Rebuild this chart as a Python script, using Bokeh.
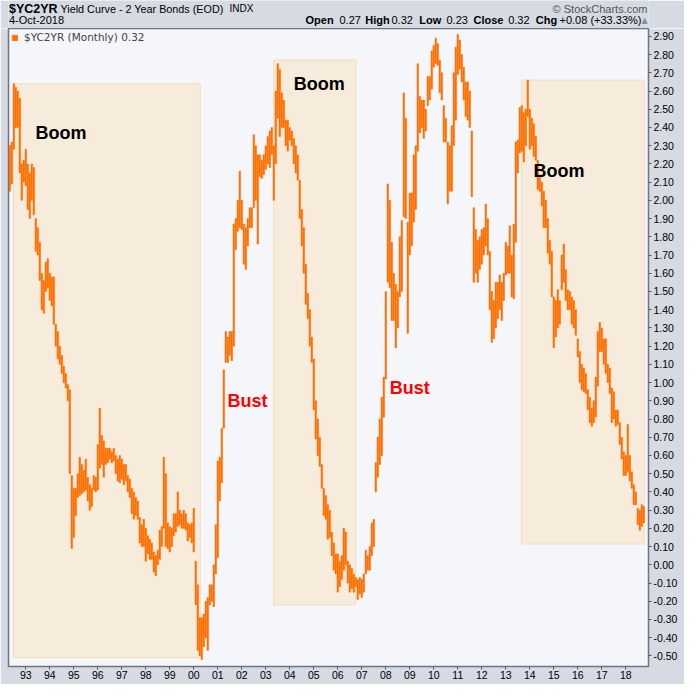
import pandas as pd
from bokeh.plotting import figure
from bokeh.layouts import column
from bokeh.models import (Range1d, FixedTicker, NumeralTickFormatter, Label,
                          Legend, LegendItem, ColumnDataSource)
from bokeh.core.properties import value
from bokeh.embed import file_html
from bokeh.resources import INLINE

# ---------------- data (monthly high / low of $YC2YR, May 1992 .. Oct 2018) -------------
start_month = "1992-05"
highs = [
    2.30, 2.32, 2.64, 2.62, 2.60, 2.56, 2.20, 2.22,                          # 1992 May-Dec
    2.28, 2.20, 2.15, 2.20, 2.18, 1.90, 1.85, 1.77, 1.60, 1.56, 1.66, 1.68,  # 1993
    1.60, 1.58, 1.58, 1.32, 1.28, 1.20, 1.15, 1.09, 1.05, 0.99, 0.96, 0.49,  # 1994
    0.42, 0.42, 0.50, 0.59, 0.55, 0.52, 0.58, 0.48, 0.44, 0.42, 0.49, 0.48,  # 1995
    0.66, 0.86, 0.71, 0.68, 0.64, 0.64, 0.64, 0.62, 0.64, 0.60, 0.58, 0.60,  # 1996
    0.58, 0.55, 0.55, 0.49, 0.47, 0.42, 0.40, 0.37, 0.35, 0.26, 0.22, 0.25,  # 1997
    0.20, 0.16, 0.14, 0.12, 0.07, 0.05, 0.08, 0.19, 0.21, 0.59, 0.50, 0.23,  # 1998
    0.21, 0.20, 0.28, 0.28, 0.40, 0.30, 0.28, 0.30, 0.28, 0.23, 0.22, 0.23,  # 1999
    0.31, 0.02, -0.11, -0.29, -0.29, -0.27, -0.20, -0.18, -0.11, -0.11, 0.00, 0.22,  # 2000
    0.57, 0.59, 0.75, 1.07, 1.28, 1.25, 1.28, 1.28, 1.87, 1.90, 2.00, 2.16,  # 2001
    2.00, 1.87, 1.85, 1.90, 1.96, 1.96, 2.36, 2.30, 2.25, 2.25, 2.22, 2.25,  # 2002
    2.30, 2.35, 2.38, 2.40, 2.30, 2.60, 2.75, 2.72, 2.59, 2.55, 2.44, 2.44,  # 2003
    2.40, 2.38, 2.34, 2.30, 2.25, 2.11, 1.95, 1.85, 1.65, 1.49, 1.40, 1.25,  # 2004
    1.13, 0.90, 0.80, 0.70, 0.55, 0.42, 0.38, 0.33, 0.30, 0.18, 0.12, 0.06,  # 2005
    0.06, 0.02, 0.05, 0.20, 0.18, 0.02, 0.00, -0.02, -0.05, -0.07, -0.08, -0.07,  # 2006
    -0.08, -0.05, 0.08, 0.05, 0.10, 0.23, 0.25, 0.56, 0.70, 0.80, 0.92, 1.03,  # 2007
    1.50, 2.09, 2.00, 1.77, 1.60, 1.54, 1.50, 1.80, 1.89, 2.59, 2.45, 1.88,  # 2008
    2.04, 2.04, 2.25, 2.30, 2.75, 2.57, 2.55, 2.55, 2.50, 2.68, 2.68, 2.82,  # 2009
    2.85, 2.89, 2.86, 2.77, 2.70, 2.52, 2.45, 2.32, 2.30, 2.41, 2.70, 2.84,  # 2010
    2.91, 2.88, 2.80, 2.73, 2.65, 2.65, 2.60, 2.38, 1.96, 1.84, 1.78, 1.80,  # 2011
    1.84, 1.85, 1.98, 1.90, 1.72, 1.50, 1.45, 1.55, 1.55, 1.59, 1.55, 1.60,  # 2012
    1.77, 1.75, 1.86, 1.70, 1.87, 2.32, 2.33, 2.51, 2.52, 2.48, 2.50, 2.66,  # 2013
    2.50, 2.45, 2.42, 2.35, 2.22, 2.14, 2.10, 2.05, 2.00, 1.90, 1.78, 1.72,  # 2014
    1.47, 1.45, 1.51, 1.45, 1.70, 1.76, 1.62, 1.51, 1.50, 1.47, 1.45, 1.40,  # 2015
    1.24, 1.17, 1.10, 1.08, 1.05, 0.96, 0.92, 0.86, 0.90, 1.03, 1.28, 1.33,  # 2016
    1.30, 1.24, 1.24, 1.10, 1.08, 0.97, 0.95, 0.85, 0.85, 0.78, 0.70, 0.62,  # 2017
    0.60, 0.77, 0.60, 0.51, 0.44, 0.40, 0.31, 0.30, 0.33, 0.32,              # 2018 Jan-Oct
]
lows = [
    2.05, 2.09, 2.28, 2.40, 2.40, 2.15, 2.00, 2.10,                          # 1992 May-Dec
    2.08, 1.95, 1.90, 2.00, 1.92, 1.72, 1.70, 1.56, 1.40, 1.38, 1.50, 1.52,  # 1993
    1.45, 1.42, 1.32, 1.20, 1.13, 1.10, 1.05, 1.00, 0.97, 0.90, 0.50, 0.09,  # 1994
    0.15, 0.27, 0.37, 0.38, 0.39, 0.40, 0.41, 0.35, 0.30, 0.32, 0.41, 0.40,  # 1995
    0.41, 0.53, 0.55, 0.48, 0.55, 0.56, 0.58, 0.56, 0.57, 0.50, 0.46, 0.45,  # 1996
    0.47, 0.44, 0.46, 0.40, 0.37, 0.28, 0.25, 0.27, 0.25, 0.12, 0.10, 0.10,  # 1997
    0.02, 0.06, 0.03, 0.03, -0.04, -0.06, 0.00, 0.03, 0.10, 0.20, 0.10, 0.09,  # 1998
    0.07, 0.10, 0.16, 0.18, 0.21, 0.22, 0.20, 0.20, 0.19, 0.13, 0.15, 0.12,  # 1999
    0.07, -0.22, -0.47, -0.50, -0.52, -0.45, -0.40, -0.47, -0.22, -0.20, -0.23, -0.05,  # 2000
    0.04, 0.35, 0.45, 0.75, 1.11, 1.11, 1.15, 1.12, 1.20, 1.73, 1.83, 1.85,  # 2001
    1.84, 1.65, 1.62, 1.75, 1.85, 1.85, 1.96, 2.00, 1.76, 2.13, 2.12, 2.14,  # 2002
    2.17, 2.20, 2.18, 2.25, 2.00, 2.20, 2.45, 2.35, 2.40, 2.40, 2.30, 2.27,  # 2003
    2.33, 2.30, 2.20, 2.15, 2.11, 1.90, 1.75, 1.60, 1.43, 1.35, 1.20, 1.11,  # 2004
    0.85, 0.69, 0.60, 0.54, 0.42, 0.27, 0.25, 0.14, 0.15, 0.05, -0.03, -0.05,  # 2005
    -0.15, -0.12, -0.08, -0.03, 0.00, -0.10, -0.15, -0.13, -0.15, -0.12, -0.19, -0.16,  # 2006
    -0.18, -0.15, -0.05, -0.03, -0.03, 0.05, 0.10, 0.40, 0.48, 0.55, 0.60, 0.81,  # 2007
    1.02, 1.55, 1.52, 1.34, 1.34, 1.19, 1.30, 1.47, 1.50, 1.91, 1.90, 1.27,  # 2008
    1.70, 1.75, 1.88, 1.95, 2.27, 2.37, 2.40, 2.34, 2.38, 2.52, 2.55, 2.61,  # 2009
    2.73, 2.75, 2.74, 2.59, 2.55, 2.32, 2.32, 1.98, 2.05, 2.05, 2.30, 2.44,  # 2010
    2.69, 2.72, 2.65, 2.55, 2.46, 2.44, 2.40, 2.02, 1.55, 1.60, 1.55, 1.62,  # 2011
    1.65, 1.70, 1.75, 1.70, 1.40, 1.22, 1.24, 1.30, 1.35, 1.40, 1.34, 1.45,  # 2012
    1.59, 1.60, 1.60, 1.47, 1.46, 1.77, 2.15, 2.26, 2.27, 2.21, 2.30, 2.46,  # 2013
    2.28, 2.30, 2.24, 2.22, 2.06, 2.05, 1.97, 1.85, 1.85, 1.71, 1.65, 1.47,  # 2014
    1.19, 1.25, 1.30, 1.32, 1.51, 1.55, 1.45, 1.40, 1.40, 1.32, 1.30, 1.26,  # 2015
    1.14, 1.00, 0.96, 0.95, 0.94, 0.85, 0.78, 0.76, 0.78, 0.81, 0.98, 1.17,  # 2016
    1.17, 1.10, 1.05, 1.00, 0.94, 0.78, 0.80, 0.76, 0.77, 0.66, 0.58, 0.49,  # 2017
    0.49, 0.51, 0.46, 0.42, 0.33, 0.33, 0.22, 0.19, 0.21, 0.23,              # 2018 Jan-Oct
]

year_ticks = [1993, 1994, 1995, 1996, 1997, 1998, 1999, 2000, 2001, 2002, 2003, 2004, 2005,
              2006, 2007, 2008, 2009, 2010, 2011, 2012, 2013, 2014, 2015, 2016, 2017, 2018]
year_labels = ["93", "94", "95", "96", "97", "98", "99", "00", "01", "02", "03", "04", "05",
               "06", "07", "08", "09", "10", "11", "12", "13", "14", "15", "16", "17", "18"]
price_ticks = [-0.50, -0.40, -0.30, -0.20, -0.10, 0.00, 0.10, 0.20, 0.30, 0.40, 0.50, 0.60,
               0.70, 0.80, 0.90, 1.00, 1.10, 1.20, 1.30, 1.40, 1.50, 1.60, 1.70, 1.80, 1.90,
               2.00, 2.10, 2.20, 2.30, 2.40, 2.50, 2.60, 2.70, 2.80, 2.90]

# shaded "Boom" periods
boom_start = [1992.49, 2003.33, 2013.65]
boom_end = [2000.27, 2006.75, 2018.77]
boom_top = [2.64, 2.77, 2.66]
boom_bottom = [-0.51, -0.22, 0.114]

note_text = ["Boom", "Boom", "Boom", "Bust", "Bust"]
note_x = [1993.40, 2004.16, 2014.15, 2001.40, 2008.16]
note_y = [2.37, 2.64, 2.16, 0.90, 0.97]
note_color = ["#000000", "#000000", "#000000", "#ff0000", "#ff0000"]

# header quote line
quote_names = ["Open", "High", "Low", "Close", "Chg"]
quote_values = ["0.27", "0.32", "0.23", "0.32", "+0.08 (+33.33%)"]

# ---------------- build -------------------------------------------------------------
months = pd.date_range(start_month, periods=len(highs), freq="MS")
t = [d.year + (d.month - 1) / 12.0 for d in months]
src = ColumnDataSource(dict(t=t, high=highs, low=lows))

ORANGE = "#ff6f00"
FONT = "Liberation Sans"
BG = "#d5dae3"
HDR_H = 28

# --- header strip (its own small figure; its frame is aligned with the chart frame,
#     so its x range is expressed in figure pixels 8..648) ---
hdr = figure(width=684, height=HDR_H, x_range=Range1d(8, 648), y_range=Range1d(0, HDR_H),
             x_axis_location=None, y_axis_location=None, output_backend="svg",
             toolbar_location=None, min_border_left=8, min_border_right=36,
             min_border_top=0, min_border_bottom=0,
             background_fill_color=BG, border_fill_color=BG)
hdr.grid.visible = False
hdr.outline_line_color = None


def lab(x, y, text, size="11px", style="normal", color="#000000", align="left", font=FONT):
    hdr.add_layout(Label(x=x, y=y, text=text, text_font=font, text_font_size=size,
                         text_font_style=style, text_color=color, text_align=align,
                         text_baseline="middle"))


r1, r2 = 20.0, 8.5
lab(8.5, r1, "$YC2YR", size="12.5px", style="bold")
lab(60, r1, "Yield Curve - 2 Year Bonds (EOD)", size="10.8px")
lab(229, r1, "INDX", size="10px")
lab(647, r1, "\u00a9 StockCharts.com", color="#555555", align="right")
lab(8.5, r2, "4-Oct-2018")
name_x = [305, 364.7, 418.7, 473, 535.3]
val_x = [339, 391, 446, 507.7, 559]
for nx, vx, nm, vl in zip(name_x, val_x, quote_names, quote_values):
    lab(nx, r2, nm, style="bold")
    lab(vx, r2, vl)
lab(641, r2, "\u25b2", size="8px", color="#8a8f99", font="DejaVu Sans")

# --- main chart ---
p = figure(frame_width=640, frame_height=638,
           x_range=Range1d(1992.279, 2018.946), y_range=Range1d(-0.558, 2.943),
           y_axis_location="right", output_backend="svg", toolbar_location=None,
           min_border_left=8, min_border_right=36, min_border_top=0, min_border_bottom=18,
           background_fill_color="#f5f6fa", border_fill_color=BG)
p.grid.visible = False
p.outline_line_color = "#6f7480"
p.outline_line_width = 1.5

p.quad(left=boom_start, right=boom_end, top=boom_top, bottom=boom_bottom,
       fill_color="#f7ebdb", line_color="#f6dcb9", line_width=1)

bars = p.vbar(x="t", width=0.065, bottom="low", top="high", source=src,
              fill_color=ORANGE, line_color=ORANGE, line_width=0.5)

p.text(x=note_x, y=note_y, text=note_text, text_color=note_color,
       text_font=value(FONT), text_font_style="bold", text_font_size="18px",
       text_baseline="middle", text_align="left")

xa = p.xaxis[0]
xa.ticker = FixedTicker(ticks=year_ticks)
xa.major_label_overrides = {y: l for y, l in zip(year_ticks, year_labels)}
ya = p.yaxis[0]
ya.ticker = FixedTicker(ticks=price_ticks)
ya.formatter = NumeralTickFormatter(format="0.00")
for ax in (xa, ya):
    ax.axis_line_color = None
    ax.major_tick_out = 3
    ax.major_tick_in = 0
    ax.major_tick_line_color = "#555a66"
    ax.minor_tick_line_color = None
    ax.major_label_text_font = FONT
    ax.major_label_text_font_size = "10.5px"
    ax.major_label_text_color = "#000000"
    ax.major_label_standoff = 2
xa.major_label_standoff = 1

legend = Legend(items=[LegendItem(label=value("$YC2YR (Monthly) 0.32"), renderers=[bars])],
                location="top_left", margin=1, padding=2, glyph_width=7, glyph_height=7,
                label_standoff=6, label_text_font="DejaVu Sans", label_text_font_size="10.5px",
                label_height=8, background_fill_alpha=0, border_line_alpha=0)
p.add_layout(legend)

layout = column(hdr, p, spacing=0)
open("out.html", "w").write(file_html(layout, INLINE))
